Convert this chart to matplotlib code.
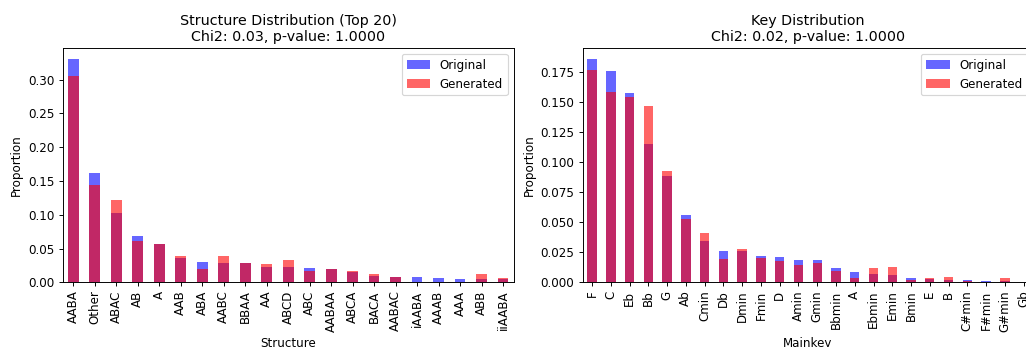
import matplotlib
matplotlib.use("Agg")
import matplotlib.pyplot as plt
import numpy as np

# Structure distribution (top 20 + Other)
structures = ["AABA", "Other", "ABAC", "AB", "A", "AAB", "ABA", "AABC", "BBAA", "AA",
              "ABCD", "ABC", "AABAA", "ABCA", "BACA", "AABAC", "iAABA", "AAAB", "AAA",
              "ABB", "iiAABA"]
struct_original = [0.331, 0.162, 0.102, 0.069, 0.056, 0.036, 0.030, 0.028, 0.028, 0.023,
                   0.022, 0.021, 0.019, 0.015, 0.009, 0.008, 0.008, 0.006, 0.005,
                   0.005, 0.005]
struct_generated = [0.305, 0.144, 0.122, 0.061, 0.057, 0.039, 0.019, 0.039, 0.028, 0.027,
                    0.033, 0.017, 0.019, 0.016, 0.013, 0.008, 0.0005, 0.0003, 0.0003,
                    0.012, 0.006]

# Main key distribution
keys = ["F", "C", "Eb", "Bb", "G", "Ab", "Cmin", "Db", "Dmin", "Fmin", "D", "Amin",
        "Gmin", "Bbmin", "A", "Ebmin", "Emin", "Bmin", "E", "B", "C#min", "F#min",
        "G#min", "Gb"]
key_original = [0.1855, 0.1756, 0.1572, 0.1148, 0.0885, 0.0557, 0.0344, 0.0263, 0.0263,
                0.0219, 0.0211, 0.0186, 0.0186, 0.0119, 0.0086, 0.0067, 0.0061, 0.0036,
                0.0028, 0.0017, 0.0022, 0.0014, 0.0010, 0.0003]
key_generated = [0.1761, 0.1586, 0.1542, 0.1467, 0.0929, 0.0527, 0.0408, 0.0194, 0.0277,
                 0.0205, 0.0177, 0.0144, 0.0164, 0.0094, 0.0036, 0.0119, 0.0128, 0.0022,
                 0.0036, 0.0044, 0.0008, 0.0005, 0.0036, 0.0002]

struct_title = "Structure Distribution (Top 20)\nChi2: 0.03, p-value: 1.0000"
key_title = "Key Distribution\nChi2: 0.02, p-value: 1.0000"

DPI = 85.5
W, H = 1026, 347
fig = plt.figure(figsize=(W / DPI, H / DPI), dpi=DPI)

bottom = (H - 282.3) / H
height = (282.3 - 48) / H
ax1 = fig.add_axes([62.5 / W, bottom, (513.8 - 62.5) / W, height])
ax2 = fig.add_axes([582.7 / W, bottom, (1033.0 - 582.7) / W, height])


def draw(ax, cats, orig, gen, title, xlabel):
    x = np.arange(len(cats))
    ax.bar(x, orig, width=0.5, color="blue", alpha=0.6, label="Original")
    ax.bar(x, gen, width=0.5, color="red", alpha=0.6, label="Generated")
    ax.set_xlim(-0.5, len(cats) - 0.5)
    ax.set_xticks(x)
    ax.set_xticklabels(cats, rotation=90)
    ax.set_title(title)
    ax.set_xlabel(xlabel)
    ax.set_ylabel("Proportion")
    ax.legend(loc="upper right")


draw(ax1, structures, struct_original, struct_generated, struct_title, "Structure")
draw(ax2, keys, key_original, key_generated, key_title, "Mainkey")
ax1.set_ylim(0, 0.347)
ax1.set_yticks(np.arange(0, 0.31, 0.05))
ax2.set_ylim(0, 0.1948)
ax2.set_yticks(np.arange(0, 0.176, 0.025))

fig.savefig("out.png", dpi=DPI)
